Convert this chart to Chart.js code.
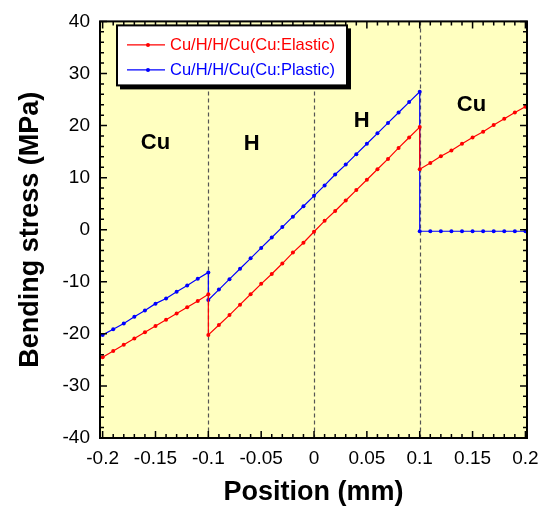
<!DOCTYPE html>
<html>
<head>
<meta charset="utf-8">
<script src="https://cdn.jsdelivr.net/npm/chart.js@4/dist/chart.umd.min.js"></script>
<style>
  html, body { margin: 0; padding: 0; background: #fff; }
  #wrap { width: 550px; height: 516px; }
</style>
</head>
<body>
<div id="wrap"><canvas id="c" width="550" height="516"></canvas></div>
<script>
// ---- Data ----
const xCuLeft  = [-0.20,-0.19,-0.18,-0.17,-0.16,-0.15,-0.14,-0.13,-0.12,-0.11,-0.10];
const xH       = [-0.10,-0.09,-0.08,-0.07,-0.06,-0.05,-0.04,-0.03,-0.02,-0.01,0.00,
                   0.01,0.02,0.03,0.04,0.05,0.06,0.07,0.08,0.09,0.10];
const xCuRight = [0.10,0.11,0.12,0.13,0.14,0.15,0.16,0.17,0.18,0.19,0.20];

const elasticCuLeft  = [-24.5,-23.3,-22.1,-20.9,-19.7,-18.5,-17.3,-16.1,-14.9,-13.7,-12.4];
const elasticH       = [-20.2,-18.3,-16.4,-14.4,-12.4,-10.4,-8.5,-6.5,-4.4,-2.5,-0.4,
                        1.7,3.6,5.6,7.6,9.6,11.6,13.6,15.7,17.7,19.7];
const elasticCuRight = [11.6,12.8,14.1,15.2,16.5,17.7,18.8,20.1,21.3,22.5,23.6];

const plasticCuLeft  = [-20.2,-19.1,-18.0,-16.7,-15.5,-14.2,-13.2,-11.9,-10.7,-9.4,-8.2];
const plasticH       = [-13.5,-11.5,-9.5,-7.5,-5.5,-3.5,-1.5,0.5,2.5,4.5,6.5,
                        8.5,10.6,12.5,14.5,16.5,18.5,20.5,22.5,24.5,26.5];
const plasticCuRight = [-0.3,-0.3,-0.3,-0.3,-0.3,-0.3,-0.3,-0.3,-0.3,-0.3,-0.3];

const seriesNames = ['Cu/H/H/Cu(Cu:Elastic)', 'Cu/H/H/Cu(Cu:Plastic)'];
const seriesColors = ['#ff0000', '#0000ff'];

const xTickValues = [-0.2,-0.15,-0.1,-0.05,0,0.05,0.1,0.15,0.2];
const xTickLabels = ['-0.2','-0.15','-0.1','-0.05','0','0.05','0.1','0.15','0.2'];
const yTickValues = [-40,-30,-20,-10,0,10,20,30,40];
const yTickLabels = ['-40','-30','-20','-10','0','10','20','30','40'];

const layerBoundaries = [-0.1, 0, 0.1];
const regionNames = ['Cu','H','H','Cu'];
const regionX = [-0.15,-0.059,0.045,0.149];
const regionY = [16.6,16.4,20.8,24.0];

// ---- Build point lists ----
function pts(xs, ys) { return xs.map((x, i) => ({x: x, y: ys[i]})); }
const elasticData = [].concat(pts(xCuLeft, elasticCuLeft), pts(xH, elasticH), pts(xCuRight, elasticCuRight));
const plasticData = [].concat(pts(xCuLeft, plasticCuLeft), pts(xH, plasticH), pts(xCuRight, plasticCuRight));

const FONT = "'Liberation Sans', Arial, Helvetica, sans-serif";

const decoPlugin = {
  id: 'deco',
  beforeDatasetsDraw(chart) {
    const {ctx, chartArea: a, scales: {x, y}} = chart;
    ctx.save();
    ctx.fillStyle = '#ffffc0';
    ctx.fillRect(a.left, a.top, a.right - a.left, a.bottom - a.top);
    ctx.strokeStyle = '#555';
    ctx.lineWidth = 1.2;
    ctx.setLineDash([4, 3]);
    layerBoundaries.forEach(v => {
      const px = Math.round(x.getPixelForValue(v)) + 0.5;
      ctx.beginPath();
      ctx.moveTo(px, a.top);
      ctx.lineTo(px, a.bottom);
      ctx.stroke();
    });
    ctx.restore();
  },
  afterDatasetsDraw(chart) {
    const {ctx, chartArea: a, scales: {x, y}} = chart;
    ctx.save();
    // ticks (inward, all four sides)
    ctx.strokeStyle = '#000';
    ctx.lineWidth = 1.5;
    for (let k = -20; k <= 20; k++) {
      const v = k / 100;
      const px = x.getPixelForValue(v);
      if (px < a.left - 0.5 || px > a.right + 0.5) continue;
      const len = (k % 5 === 0) ? 7 : 4;
      ctx.beginPath();
      ctx.moveTo(px, a.bottom); ctx.lineTo(px, a.bottom - len);
      ctx.moveTo(px, a.top); ctx.lineTo(px, a.top + len);
      ctx.stroke();
    }
    for (let k = -20; k <= 20; k++) {
      const v = k * 2;
      const py = y.getPixelForValue(v);
      const len = (v % 10 === 0) ? 7 : 4;
      ctx.beginPath();
      ctx.moveTo(a.left, py); ctx.lineTo(a.left + len, py);
      ctx.moveTo(a.right, py); ctx.lineTo(a.right - len, py);
      ctx.stroke();
    }
    // frame
    ctx.lineWidth = 2;
    ctx.strokeRect(a.left, a.top, a.right - a.left, a.bottom - a.top);

    // region labels
    ctx.fillStyle = '#000';
    ctx.font = 'bold 22px ' + FONT;
    ctx.textAlign = 'center';
    ctx.textBaseline = 'middle';
    regionNames.forEach((t, i) => {
      ctx.fillText(t, x.getPixelForValue(regionX[i]), y.getPixelForValue(regionY[i]));
    });

    // legend
    const lx = a.left + 17, ly = a.top + 4, lw = 230, lh = 60;
    ctx.fillStyle = '#000';
    ctx.fillRect(lx + 3, ly + 3, lw + 1, lh + 1);
    ctx.fillStyle = '#fff';
    ctx.fillRect(lx, ly, lw, lh);
    ctx.lineWidth = 2;
    ctx.strokeStyle = '#000';
    ctx.strokeRect(lx, ly, lw, lh);
    ctx.font = '16.5px ' + FONT;
    ctx.textAlign = 'left';
    chart.data.datasets.forEach((ds, i) => {
      const ry = ly + 19.5 + i * 25;
      ctx.strokeStyle = ds.borderColor;
      ctx.lineWidth = 1.2;
      ctx.beginPath();
      ctx.moveTo(lx + 10, ry); ctx.lineTo(lx + 48, ry);
      ctx.stroke();
      ctx.fillStyle = ds.borderColor;
      ctx.beginPath();
      ctx.arc(lx + 31, ry, 2, 0, Math.PI * 2);
      ctx.fill();
      ctx.fillText(ds.label, lx + 53, ry + 1);
    });
    ctx.restore();
  }
};

new Chart(document.getElementById('c'), {
  type: 'line',
  data: {
    datasets: [
      { label: seriesNames[0], data: elasticData, borderColor: seriesColors[0], backgroundColor: seriesColors[0],
        borderWidth: 1.2, pointRadius: 2, pointBorderWidth: 0, pointHoverRadius: 2, tension: 0, fill: false },
      { label: seriesNames[1], data: plasticData, borderColor: seriesColors[1], backgroundColor: seriesColors[1],
        borderWidth: 1.2, pointRadius: 2, pointBorderWidth: 0, pointHoverRadius: 2, tension: 0, fill: false }
    ]
  },
  options: {
    responsive: false,
    animation: false,
    events: [],
    layout: { padding: { top: 14, right: 23, left: 0, bottom: 0 } },
    plugins: { legend: { display: false }, tooltip: { enabled: false } },
    scales: {
      x: {
        type: 'linear', min: -0.2025, max: 0.2015,
        grid: { display: false, drawTicks: false },
        border: { display: false },
        afterBuildTicks: s => { s.ticks = xTickValues.map(v => ({value: v})); },
        afterFit: s => { s.height = 78; },
        ticks: { color: '#000', font: { family: FONT, size: 19 }, padding: 9, maxRotation: 0, autoSkip: false,
                 callback: (v, i) => xTickLabels[i] },
        title: { display: true, text: 'Position (mm)', color: '#000',
                 font: { family: FONT, size: 27, weight: 'bold' }, padding: { top: 0, bottom: 7 } }
      },
      y: {
        type: 'linear', min: -40, max: 40,
        grid: { display: false, drawTicks: false },
        border: { display: false },
        afterBuildTicks: s => { s.ticks = yTickValues.map(v => ({value: v})); },
        afterFit: s => { s.width = 100; },
        ticks: { color: '#000', font: { family: FONT, size: 19 }, padding: 10, autoSkip: false,
                 callback: (v, i) => yTickLabels[i] },
        title: { display: true, text: 'Bending stress (MPa)', color: '#000',
                 font: { family: FONT, size: 27, weight: 'bold' }, padding: { top: 14, bottom: 0 } }
      }
    }
  },
  plugins: [decoPlugin]
});
</script>
</body>
</html>
